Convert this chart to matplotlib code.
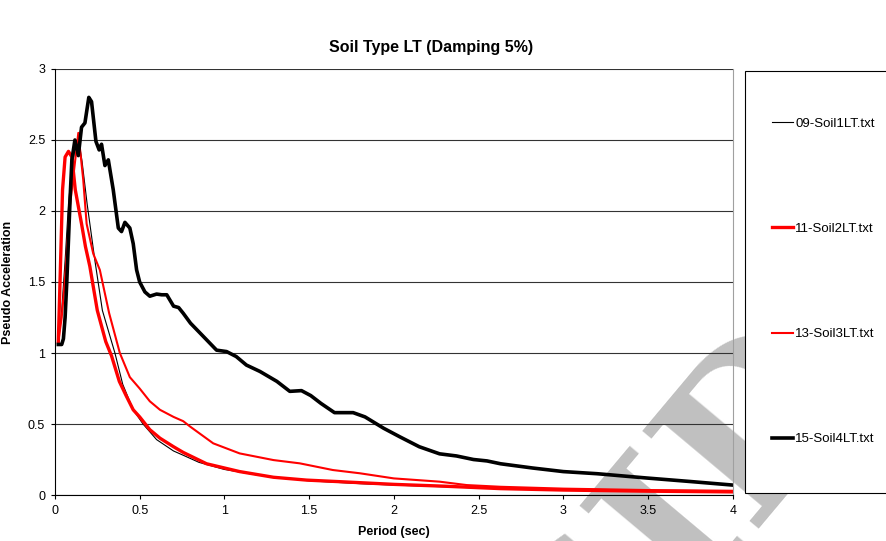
import matplotlib
matplotlib.use("Agg")
import matplotlib.pyplot as plt
from matplotlib.patches import Rectangle

plt.rcParams['font.family'] = ['Liberation Sans', 'DejaVu Sans']

# period (sec) / pseudo acceleration pairs per soil record
t_soil1 = [0.02, 0.04, 0.06, 0.08, 0.10, 0.12, 0.138, 0.16, 0.19, 0.236, 0.28, 0.354, 0.40, 0.462,
           0.52, 0.60, 0.70, 0.757, 0.85, 1.0, 1.2, 1.5, 1.8, 2.0, 2.5, 3.0, 3.5, 4.0]
sa_soil1 = [1.07, 1.30, 1.65, 2.05, 2.30, 2.45, 2.52, 2.35, 2.05, 1.65, 1.30, 1.00, 0.78, 0.60,
            0.50, 0.39, 0.31, 0.28, 0.23, 0.18, 0.14, 0.10, 0.08, 0.07, 0.05, 0.035, 0.028, 0.022]

t_soil2 = [0.02, 0.03, 0.045, 0.06, 0.08, 0.10, 0.12, 0.157, 0.18, 0.206, 0.25, 0.30, 0.334, 0.38,
           0.42, 0.462, 0.50, 0.56, 0.62, 0.70, 0.757, 0.895, 1.09, 1.29, 1.485, 1.68, 2.0, 2.3,
           2.63, 3.0, 3.5, 4.0]
sa_soil2 = [1.08, 1.50, 2.15, 2.38, 2.42, 2.38, 2.15, 1.91, 1.75, 1.61, 1.30, 1.08, 0.98, 0.80,
            0.70, 0.60, 0.55, 0.46, 0.40, 0.34, 0.30, 0.22, 0.165, 0.125, 0.105, 0.094, 0.075, 0.062,
            0.045, 0.035, 0.027, 0.022]

t_soil3 = [0.02, 0.04, 0.059, 0.088, 0.118, 0.138, 0.167, 0.187, 0.226, 0.265, 0.32, 0.383, 0.442,
           0.50, 0.56, 0.62, 0.70, 0.757, 0.80, 0.934, 1.09, 1.29, 1.445, 1.64, 1.80, 2.0, 2.27,
           2.43, 2.63, 3.0, 3.5, 4.0]
sa_soil3 = [1.08, 1.25, 1.51, 2.03, 2.34, 2.55, 2.22, 1.91, 1.70, 1.585, 1.28, 1.00, 0.83,
            0.75, 0.66, 0.60, 0.55, 0.52, 0.48, 0.364, 0.293, 0.246, 0.223, 0.176, 0.153, 0.117, 0.094,
            0.07, 0.058, 0.045, 0.035, 0.03]

t_soil4 = [0.02, 0.04, 0.05, 0.06, 0.07, 0.09, 0.10, 0.118, 0.138, 0.157, 0.177, 0.20, 0.216, 0.242,
           0.261, 0.275, 0.295, 0.315, 0.344, 0.374, 0.393, 0.413, 0.442, 0.462, 0.482, 0.50, 0.531,
           0.56, 0.60, 0.63, 0.66, 0.70, 0.73, 0.757, 0.80, 0.865, 0.954, 1.013, 1.07, 1.13, 1.21,
           1.31, 1.386, 1.455, 1.51, 1.57, 1.65, 1.76, 1.83, 1.94, 2.035, 2.15, 2.27, 2.37, 2.47,
           2.55, 2.63, 2.82, 3.0, 3.2, 3.49, 3.75, 4.0]
sa_soil4 = [1.06, 1.06, 1.10, 1.25, 1.50, 2.10, 2.36, 2.50, 2.39, 2.59, 2.62, 2.80, 2.77, 2.49,
            2.43, 2.47, 2.32, 2.36, 2.15, 1.88, 1.855, 1.92, 1.88, 1.77, 1.585, 1.50, 1.43,
            1.40, 1.415, 1.41, 1.41, 1.33, 1.32, 1.28, 1.21, 1.13, 1.02, 1.01, 0.975, 0.915, 0.87,
            0.80, 0.73, 0.735, 0.70, 0.645, 0.58, 0.58, 0.55, 0.47, 0.41, 0.34, 0.29, 0.275, 0.25,
            0.24, 0.22, 0.19, 0.165, 0.15, 0.12, 0.095, 0.07]

labels = ['09-Soil1LT.txt', '11-Soil2LT.txt', '13-Soil3LT.txt', '15-Soil4LT.txt']

fig = plt.figure(figsize=(8.86, 5.41), dpi=100)
ax = fig.add_axes([0.062, 0.085, 0.765, 0.7875])

# grey stamp across the lower right corner
ax.text(0.77, 0.05, 'SID', transform=fig.transFigure, rotation=50, fontsize=150,
        family='DejaVu Serif', fontweight='bold', color='#c0c0c0', ha='center', va='center',
        zorder=1.4, clip_on=False)

ax.plot(t_soil1, sa_soil1, color='black', lw=0.8, label=labels[0], zorder=2)
ax.plot(t_soil2, sa_soil2, color='#ff0000', lw=2.4, label=labels[1], zorder=2)
ax.plot(t_soil3, sa_soil3, color='#ff0000', lw=1.5, label=labels[2], zorder=2)
ax.plot(t_soil4, sa_soil4, color='black', lw=2.6, label=labels[3], zorder=2)

ax.set_xlim(0, 4)
ax.set_ylim(0, 3)
ax.set_xticks([0, 0.5, 1, 1.5, 2, 2.5, 3, 3.5, 4])
ax.set_xticklabels(['0', '0.5', '1', '1.5', '2', '2.5', '3', '3.5', '4'])
ax.set_yticks([0, 0.5, 1, 1.5, 2, 2.5, 3])
ax.set_yticklabels(['0', '0.5', '1', '1.5', '2', '2.5', '3'])
ax.tick_params(direction='out', length=3, width=0.8, labelsize=9, pad=4)
ax.grid(axis='y', color='#333333', lw=0.8)
ax.spines['top'].set_visible(False)
ax.spines['right'].set_color('#a0a0a0')
ax.spines['left'].set_linewidth(0.8)
ax.spines['bottom'].set_linewidth(0.8)

ax.set_xlabel('Period (sec)', fontsize=9, fontweight='bold', labelpad=7)
ax.set_ylabel('Pseudo Acceleration', fontsize=9, fontweight='bold')
ax.yaxis.set_label_coords(-0.0605, 0.5)
fig.text(0.487, 0.913, 'Soil Type LT (Damping 5%)', fontsize=11.5, fontweight='bold',
         ha='center', va='center')

# legend box on the right
box = Rectangle((0.841, 0.089), 0.2, 0.78, transform=fig.transFigure, facecolor='white',
                edgecolor='black', lw=0.8, zorder=5)
fig.patches.append(box)
leg = fig.legend(loc='center left', bbox_to_anchor=(0.8713, 0.4797), frameon=False,
                 fontsize=9.5, labelspacing=7.05, handlelength=1.6, handletextpad=0.15,
                 borderpad=0, borderaxespad=0)
leg.set_zorder(6)

fig.savefig('out.png', dpi=100)
